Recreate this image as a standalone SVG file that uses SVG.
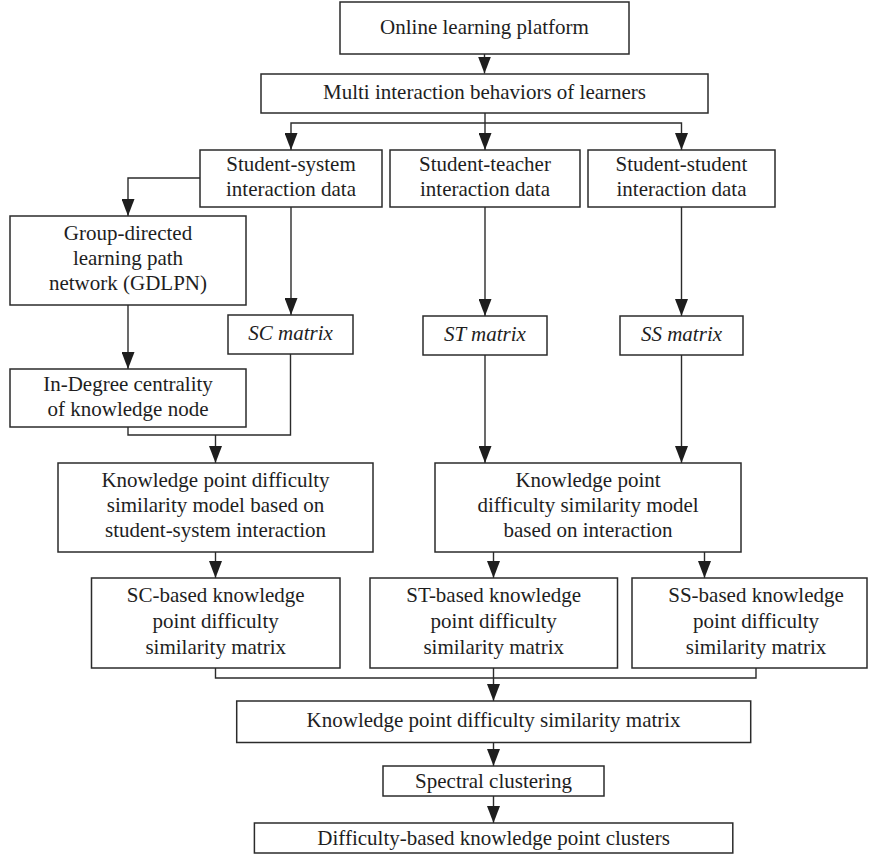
<svg xmlns="http://www.w3.org/2000/svg" width="869" height="857" viewBox="0 0 869 857">
<style>
rect{fill:#fff;stroke:#2b2b2b;stroke-width:1.5}
text{font-family:"Liberation Serif","Times New Roman",serif;font-size:21px;fill:#1e1e1e;text-anchor:middle}
.it{font-style:italic}
.c path{fill:none;stroke:#2b2b2b;stroke-width:1.4}
.c path.a{marker-end:url(#ah)}
</style>
<defs>
<marker id="ah" markerUnits="userSpaceOnUse" markerWidth="17" markerHeight="13" refX="17" refY="6.5" orient="auto">
<path d="M0,0 L17,6.5 L0,13 Z" fill="#1e1e1e"/>
</marker>
</defs>
<rect width="869" height="857" style="fill:#fff;stroke:none"/>
<g class="c" id="connectors">
<path class="a" d="M484.5,54 V73.5"/>
<path class="a" d="M485,113 V150"/>
<path class="a" d="M485,123 H291 V150"/>
<path class="a" d="M485,123 H681.5 V150"/>
<path class="a" d="M200,178 H128 V216"/>
<path class="a" d="M291,207 V315"/>
<path class="a" d="M485,207 V316"/>
<path class="a" d="M681.5,207 V316"/>
<path class="a" d="M128,305 V369"/>
<path d="M128,427 V435 H290.5 V354"/>
<path class="a" d="M215.5,435 V463"/>
<path class="a" d="M485,355 V463"/>
<path class="a" d="M681.5,355 V463"/>
<path class="a" d="M215.5,552 V578"/>
<path class="a" d="M493.5,552 V578"/>
<path class="a" d="M704.5,552 V578"/>
<path d="M215.5,668 V678 H756 V668"/>
<path class="a" d="M493.5,668 V701"/>
<path class="a" d="M493.5,742 V766"/>
<path class="a" d="M493.5,796 V823"/>
</g>
<g id="online"><rect x="340" y="2" width="289" height="52"/><text x="484.5" y="34">Online learning platform</text></g>
<g id="multi"><rect x="261" y="74" width="447" height="39"/><text x="484.5" y="98.5">Multi interaction behaviors of learners</text></g>
<g id="sys"><rect x="200" y="150" width="182" height="57"/><text x="291" y="171">Student-system</text><text x="291" y="196">interaction data</text></g>
<g id="tea"><rect x="390" y="150" width="190" height="57"/><text x="485" y="171">Student-teacher</text><text x="485" y="196">interaction data</text></g>
<g id="stu"><rect x="588" y="150" width="187" height="57"/><text x="681.5" y="171">Student-student</text><text x="681.5" y="196">interaction data</text></g>
<g id="gdlpn"><rect x="10" y="216" width="236" height="89"/><text x="128" y="240">Group-directed</text><text x="128" y="265">learning path</text><text x="128" y="290">network (GDLPN)</text></g>
<g id="scm"><rect x="228" y="315" width="125" height="39"/><text class="it" x="290.5" y="339.5">SC matrix</text></g>
<g id="stm"><rect x="423" y="316" width="124" height="39"/><text class="it" x="485" y="340.5">ST matrix</text></g>
<g id="ssm"><rect x="620" y="316" width="123" height="39"/><text class="it" x="681.5" y="340.5">SS matrix</text></g>
<g id="indeg"><rect x="10" y="369" width="236" height="58"/><text x="128" y="390.5">In-Degree centrality</text><text x="128" y="415.5">of knowledge node</text></g>
<g id="modelL"><rect x="58" y="463" width="315" height="89"/><text x="215.5" y="487">Knowledge point difficulty</text><text x="215.5" y="512">similarity model based on</text><text x="215.5" y="537">student-system interaction</text></g>
<g id="modelR"><rect x="435" y="463" width="306" height="89"/><text x="588" y="487">Knowledge point</text><text x="588" y="512">difficulty similarity model</text><text x="588" y="537">based on interaction</text></g>
<g id="scb"><rect x="91.5" y="578" width="248.5" height="90"/><text x="215.7" y="602">SC-based knowledge</text><text x="215.7" y="628">point difficulty</text><text x="215.7" y="654">similarity matrix</text></g>
<g id="stb"><rect x="370" y="578" width="247.5" height="90"/><text x="493.7" y="602">ST-based knowledge</text><text x="493.7" y="628">point difficulty</text><text x="493.7" y="654">similarity matrix</text></g>
<g id="ssb"><rect x="632" y="578" width="235" height="90"/><text x="756" y="602">SS-based knowledge</text><text x="756" y="628">point difficulty</text><text x="756" y="654">similarity matrix</text></g>
<g id="kpdsm"><rect x="236.7" y="701" width="514" height="41.5"/><text x="493.6" y="726.5">Knowledge point difficulty similarity matrix</text></g>
<g id="spectral"><rect x="383" y="766" width="221" height="30"/><text x="493.5" y="788">Spectral clustering</text></g>
<g id="diff"><rect x="254.4" y="823" width="478.4" height="30"/><text x="493.6" y="845">Difficulty-based knowledge point clusters</text></g>
</svg>
